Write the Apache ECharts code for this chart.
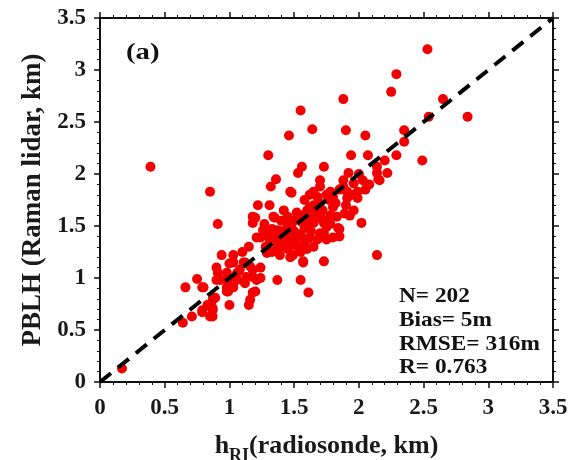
<!DOCTYPE html>
<html><head><meta charset="utf-8">
<script src="https://cdn.jsdelivr.net/npm/echarts@6/dist/echarts.min.js"></script>
<style>html,body{margin:0;padding:0;background:#fff}#c{width:576px;height:460px}</style>
</head><body><div id="c"></div>
<script>
// ---- data ----
const axisMin = 0, axisMax = 3.5, tickStep = 0.5;
const radiosondeKm = [0.17,0.39,0.85,1.55,1.64,1.46,1.30,1.56,1.73,1.36,1.32,1.53,1.70,1.70,1.47,1.65,
 2.53,2.29,2.25,1.88,2.65,2.54,2.84,1.90,2.35,2.05,2.35,1.94,2.07,2.29,2.49,2.20,2.14,2.14,2.22,2.15,1.92,2.03,1.88,1.96,1.78,1.91,1.99,2.16,
 1.22,1.31,1.48,0.91,1.18,1.18,1.34,1.45,1.52,1.26,1.37,1.21,1.31,1.45,
 0.94,1.03,1.03,1.12,0.90,0.91,0.98,1.08,1.13,1.18,1.21,0.90,0.75,0.66,0.79,0.98,1.03,0.98,1.37,1.55,1.61,1.18,1.16,1.00,1.15,0.89,0.83,0.87,0.79,0.87,0.71,0.64,
 2.02,2.14,1.73,1.85,1.85,1.89,1.83,1.73,1.73,1.75,1.99,1.91,1.82,1.57,
 1.62,1.70,1.62,1.70,1.80,1.96,1.20,1.35,1.56,1.58,1.65,1.75,1.84,1.70,1.24,1.41,1.52,1.61,1.68,1.80,
 1.31,1.49,1.62,1.49,1.65,1.37,1.29,1.39,1.49,1.57,1.00,1.11,1.16,1.18,1.24,1.24,1.06,0.99,0.93,0.80,0.99,1.20,0.87,0.87,0.79,0.85,
 1.40,1.45,1.50,1.55,1.60,1.63,1.67,1.72,1.77,1.80,1.85,1.90,1.95,1.35,1.40,1.45,1.53,1.58,1.28,1.33,1.45,1.50,1.55,1.60,1.65,1.68,1.75,1.42,1.38,1.48,1.65,1.78,1.88,2.05,2.00,
 1.10,1.15,1.27,1.42,1.58,1.62,1.47,1.55,1.60,1.33,1.12,1.06,1.72,1.78,1.93,2.08,1.40];
const lidarKm = [0.13,2.07,1.83,2.61,2.43,2.37,2.18,2.07,2.07,1.95,1.88,2.01,1.94,1.88,1.83,1.83,
 3.20,2.96,2.79,2.72,2.72,2.55,2.55,2.42,2.42,2.37,2.31,2.18,2.18,2.18,2.13,2.13,2.07,2.01,2.01,1.95,2.01,1.94,1.94,1.91,1.83,1.83,1.83,1.94,
 1.70,1.70,1.82,1.52,1.59,1.53,1.59,1.59,1.63,1.46,1.46,1.39,1.37,1.43,
 1.22,1.22,1.15,1.15,1.10,1.05,1.05,1.08,1.01,1.08,0.98,0.98,0.99,0.91,0.91,0.91,0.91,0.87,0.98,0.98,0.86,0.86,0.79,0.74,0.74,0.81,0.74,0.71,0.67,0.63,0.63,0.57,
 1.53,1.22,1.16,1.40,1.47,1.62,1.59,1.53,1.43,1.37,1.77,1.77,1.72,1.16,
 1.68,1.72,1.59,1.62,1.68,1.65,1.58,1.58,1.54,1.48,1.53,1.49,1.48,1.43,1.39,1.38,1.39,1.38,1.37,1.39,
 1.41,1.39,1.39,1.32,1.30,1.30,1.24,1.22,1.22,1.15,1.14,1.15,1.11,1.01,1.10,1.00,1.05,0.98,0.98,0.91,0.87,0.87,0.79,0.69,0.69,0.63,
 1.45,1.35,1.45,1.42,1.50,1.45,1.57,1.65,1.75,1.78,1.85,1.70,1.80,1.35,1.30,1.28,1.30,1.35,1.30,1.25,1.50,1.55,1.60,1.65,1.70,1.78,1.80,1.40,1.40,1.48,1.62,1.60,1.88,1.85,2.00,
 1.25,1.30,1.52,1.65,1.75,1.80,1.20,1.25,1.28,1.47,0.95,0.98,1.56,1.52,1.60,1.90,1.55];
const oneToOneLine = [[0, 0], [3.5, 3.5]];
const panelLabel = '(a)';
const statsLines = ['N= 202', 'Bias= 5m', 'RMSE= 316m', 'R= 0.763'];
const xTitleMain = 'h', xTitleSub = 'RI', xTitleRest = '(radiosonde, km)';
const yTitle = 'PBLH (Raman lidar, km)';

// ---- chart ----
const serif = 'Liberation Serif, Times New Roman, serif';
const ink = '#111';
const points = radiosondeKm.map((x, i) => [x, lidarKm[i]]);

function axisBase(extra) {
  return Object.assign({
    type: 'value', min: axisMin, max: axisMax, interval: tickStep,
    axisLine: { show: true, onZero: false, lineStyle: { color: ink, width: 2 } },
    axisTick: { show: true, inside: false, length: 6, lineStyle: { color: ink, width: 1.5 } },
    minorTick: { show: true, splitNumber: 5, length: 3, lineStyle: { color: ink, width: 1 } },
    splitLine: { show: false }, minorSplitLine: { show: false }
  }, extra);
}
const labelStyle = { color: '#1a1a1a', fontFamily: serif, fontWeight: 'bold', fontSize: 23 };

const chart = echarts.init(document.getElementById('c'), null, { renderer: 'canvas' });
chart.setOption({
  animation: false,
  backgroundColor: '#fff',
  grid: { left: 100, right: 23, top: 18, bottom: 78, containLabel: false, outerBoundsMode: 'none' },
  xAxis: [
    axisBase({ position: 'bottom',
      axisLabel: Object.assign({ margin: 15 }, labelStyle),
      name: '{h|' + xTitleMain + '}{s|' + xTitleSub + '}{h|' + xTitleRest + '}',
      nameLocation: 'middle', nameGap: 51,
      nameTextStyle: { rich: {
        h: { fontFamily: serif, fontWeight: 'bold', fontSize: 26, color: '#1a1a1a', lineHeight: 22, verticalAlign: 'top' },
        s: { fontFamily: serif, fontWeight: 'bold', fontSize: 18, color: '#1a1a1a', lineHeight: 32, verticalAlign: 'bottom' }
      } } }),
    axisBase({ position: 'top', axisLabel: { show: false } })
  ],
  yAxis: [
    axisBase({ position: 'left',
      axisLabel: Object.assign({ margin: 14 }, labelStyle),
      name: yTitle, nameLocation: 'middle', nameGap: 45,
      nameTextStyle: { color: '#1a1a1a', fontFamily: serif, fontWeight: 'bold', fontSize: 27 } }),
    axisBase({ position: 'right', axisLabel: { show: false } })
  ],
  series: [
    { type: 'scatter', xAxisIndex: 0, yAxisIndex: 0, data: points, symbol: 'circle', symbolSize: 10,
      itemStyle: { color: '#f20000', opacity: 1 }, z: 2, silent: true },
    { type: 'line', xAxisIndex: 0, yAxisIndex: 0, data: oneToOneLine, symbol: 'none', z: 3,
      lineStyle: { color: '#000', width: 4, type: [14, 9] }, silent: true }
  ],
  graphic: [
    { type: 'text', x: 126, y: 53, scaleX: 1.2, z: 10,
      style: { text: panelLabel, fill: '#111', font: 'bold 24px ' + serif, textAlign: 'left', textVerticalAlign: 'middle' } },
    { type: 'text', x: 399, y: 285, scaleX: 1.11, z: 10,
      style: { text: statsLines.join('\n'), fill: '#111', font: 'bold 21px ' + serif, lineHeight: 23.7, textAlign: 'left', textVerticalAlign: 'top' } }
  ]
});
</script>
</body></html>
